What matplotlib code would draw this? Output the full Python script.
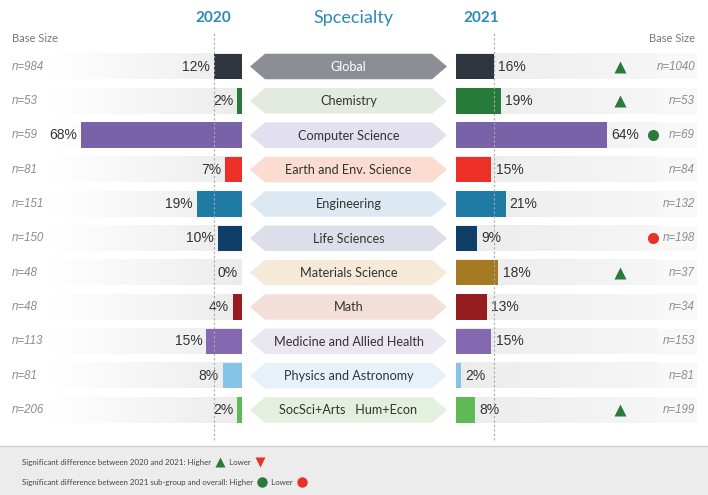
import matplotlib
matplotlib.use('Agg')
import numpy as np
import matplotlib.pyplot as plt
from matplotlib.patches import Polygon, Rectangle
from matplotlib.colors import LinearSegmentedColormap

#--- data ---#
specialty = ["Global", "Chemistry", "Computer Science", "Earth and Env. Science",
             "Engineering", "Life Sciences", "Materials Science", "Math",
             "Medicine and Allied Health", "Physics and Astronomy",
             "SocSci+Arts   Hum+Econ"]
pct_2020 = [12, 2, 68, 7, 19, 10, 0, 4, 15, 8, 2]
pct_2021 = [16, 19, 64, 15, 21, 9, 18, 13, 15, 2, 8]
n_2020 = [984, 53, 59, 81, 151, 150, 48, 48, 113, 81, 206]
n_2021 = [1040, 53, 69, 84, 132, 198, 37, 34, 153, 81, 199]
sig_year = ["up", "up", "", "", "", "", "up", "", "", "", "up"]      #2021 vs 2020
sig_overall = ["", "", "hi", "", "", "lo", "", "", "", "", ""]      #sub-group vs overall

#--- styles ---#
bar_colors = ["#2f353e", "#267a3a", "#7862a8", "#ec3028", "#1f7aa4", "#0f3f66",
              "#a57a22", "#951d20", "#8468b0", "#86c3e9", "#5fba55"]
arrow_colors = ["#8b8e94", "#e3ebe1", "#e2dfef", "#fbdcd0", "#dce9f3", "#dcdeea",
                "#f5ead8", "#f4dfd8", "#ebe7f2", "#e7f1fa", "#e3f0de"]
green = "#2a7a3b"
red = "#e8312a"
blue = "#2a8ab8"
narrow = ["Liberation Sans Narrow", "Liberation Sans", "DejaVu Sans"]
hum = ["Lato", "DejaVu Sans"]

W, H = 708, 495
y0, step = 66.5, 34.35       #row centres in px
bar_h = 25.5
left_end, right_start = 242, 456
px_l, px_r = 2.37, 2.36       #px per percent

def row_y(i):
    return y0 + i*step

fig = plt.figure(figsize=(W/100, H/100), dpi=100)
ax = fig.add_axes([0, 0, 1, 1])
ax.axis('off')

nrow = len(specialty)
idx = np.arange(nrow)

#--- row strips ---#
cm_l = LinearSegmentedColormap.from_list("l", ["#ffffff", "#ececec"])
cm_r = LinearSegmentedColormap.from_list("r", ["#ececec", "#f6f6f6"])
grad = np.linspace(0, 1, 64).reshape(1, -1)
for i in idx:
    yc = row_y(i)
    ax.imshow(grad, extent=[50, left_end, yc+bar_h/2, yc-bar_h/2], cmap=cm_l, aspect='auto', zorder=1)
    ax.imshow(grad, extent=[right_start, 658, yc+bar_h/2, yc-bar_h/2], cmap=cm_r, aspect='auto', zorder=1)
    ax.add_patch(Rectangle((658, yc-bar_h/2), 39, bar_h, color="#f8f8f8", lw=0, zorder=1))
    #--- centre arrows ---#
    pts = [(250, yc), (265, yc-bar_h/2), (432, yc-bar_h/2), (447, yc),
           (432, yc+bar_h/2), (265, yc+bar_h/2)]
    ax.add_patch(Polygon(pts, closed=True, color=arrow_colors[i], lw=0, zorder=2))
    ax.text(348.5, yc+0.5, specialty[i], ha='center', va='center', fontsize=9.1,
            family=hum, color="white" if i == 0 else "#333333", zorder=3)
    #--- base sizes ---#
    ax.text(12, yc, "n=%d" % n_2020[i], ha='left', va='center', fontsize=8.3,
            style='italic', family=narrow, color="#8c8c8c")
    ax.text(695, yc, "n=%d" % n_2021[i], ha='right', va='center', fontsize=8.3,
            style='italic', family=narrow, color="#8c8c8c")
    if sig_year[i] == "up":
        ax.plot(620, yc, marker='^', ms=9, color=green, mec='none', zorder=4)
    if sig_overall[i]:
        ax.plot(653, yc, marker='o', ms=8, color=green if sig_overall[i] == "hi" else red,
                mec='none', zorder=4)

#--- headers ---#
ax.text(12, 38, "Base Size", ha='left', va='center', fontsize=8, family=hum, color="#777777")
ax.text(695, 38, "Base Size", ha='right', va='center', fontsize=8, family=hum, color="#777777")
ax.text(353, 18, "Spcecialty", ha='center', va='center', fontsize=13, family=hum, color=blue)
ax.text(481, 18, "2021", ha='center', va='center', fontsize=11, family=hum,
        weight='bold', color=blue)

#--- footer ---#
ax.add_patch(Rectangle((0, 446), W, H-446, color="#ececec", lw=0, zorder=1))
ax.plot([0, W], [446, 446], color="#cfcfcf", lw=1, zorder=2)

ax.set_xlim(0, W)
ax.set_ylim(H, 0)

renderer = fig.canvas.get_renderer()
inv = ax.transData.inverted()
gap = " " * 9
def text_end(s, y):
    #--- width of a prefix, measured with a throw-away text ---#
    t = ax.text(22, y, s, ha='left', va='baseline', fontsize=5.7, family=hum)
    x1 = inv.transform((t.get_window_extent(renderer).x1, 0))[0]
    t.remove()
    return x1
def legend_line(y, head, m1, m2):
    full = head + gap + "Lower" + gap
    ax.text(22, y+2.5, full, ha='left', va='baseline', fontsize=5.7, family=hum,
            color="#444444", zorder=3)
    e1 = text_end(head, y+2.5)
    s1 = text_end(head + gap, y+2.5)
    e2 = text_end(head + gap + "Lower", y+2.5)
    for m, xa, xb in [(m1, e1, s1), (m2, e2, e2 + (s1 - e1))]:
        ax.plot((xa+xb)/2, y, marker=m[0], ms=7.5, color=m[1], mec='none', zorder=3)
legend_line(462, "Significant difference between 2020 and 2021: Higher", ('^', green), ('v', red))
legend_line(482, "Significant difference between 2021 sub-group and overall: Higher", ('o', green), ('o', red))

#--- bars ---#
ylim = ((H - y0)/step, -y0/step)
ax_l = fig.add_axes([0, 0, left_end/W, 1])
ax_l.axis('off')
ax_l.set_xlim(left_end/px_l, 0)
ax_l.set_ylim(*ylim)
ax_l.barh(idx, pct_2020, height=bar_h/step, color=bar_colors, zorder=2)
for i in idx:
    ax_l.annotate("%d%%" % pct_2020[i], (pct_2020[i], i), xytext=(-3, 0),
                  textcoords='offset points', ha='right', va='center', fontsize=10,
                  family=narrow, color="#333333")
ax_l.axvline(pct_2020[0], ymin=1-440/H, ymax=1-32/H, color="#aaaaaa", lw=0.8,
             ls=(0, (2, 2)), zorder=5)
ax_l.text(pct_2020[0], (18-y0)/step, "2020", ha='center', va='center', fontsize=11,
          family=hum, weight='bold', color=blue)

ax_r = fig.add_axes([right_start/W, 0, (W-right_start)/W, 1])
ax_r.axis('off')
ax_r.set_xlim(0, (W-right_start)/px_r)
ax_r.set_ylim(*ylim)
ax_r.barh(idx, pct_2021, height=bar_h/step, color=bar_colors, zorder=2)
for i in idx:
    ax_r.annotate("%d%%" % pct_2021[i], (pct_2021[i], i), xytext=(3, 0),
                  textcoords='offset points', ha='left', va='center', fontsize=10,
                  family=narrow, color="#333333")
ax_r.axvline(pct_2021[0], ymin=1-440/H, ymax=1-32/H, color="#aaaaaa", lw=0.8,
             ls=(0, (2, 2)), zorder=5)

fig.savefig("out.png", dpi=100)
